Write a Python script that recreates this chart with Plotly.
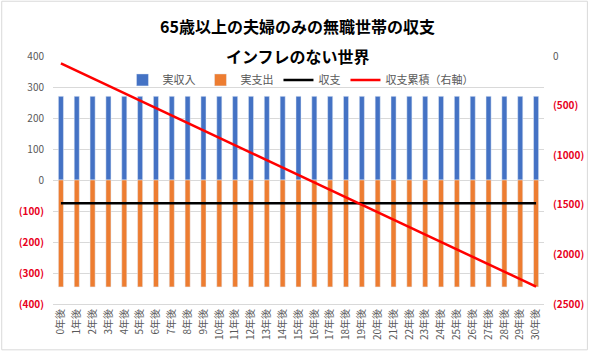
import plotly.graph_objects as go

years = [f"{i}年後" for i in range(31)]
income = [270] * 31
expense = [-345] * 31
balance = [-75] * 31
cumulative = [-75, -150, -225, -300, -375, -450, -525, -600, -675, -750,
              -825, -900, -975, -1050, -1125, -1200, -1275, -1350, -1425, -1500,
              -1575, -1650, -1725, -1800, -1875, -1950, -2025, -2100, -2175, -2250,
              -2325]

left_ticks = [400, 300, 200, 100, 0, -100, -200, -300, -400]
right_ticks = [0, -500, -1000, -1500, -2000, -2500]

RED = "#E8001C"

def fmt(v):
    if v < 0:
        return f'<span style="color:{RED}"><b>({-v})</b></span>'
    return str(v)

font = "Noto Sans CJK JP, Noto Sans, sans-serif"

fig = go.Figure()
fig.add_trace(go.Bar(x=years, y=income, name="実収入", marker_color="#4472C4"))
fig.add_trace(go.Bar(x=years, y=expense, name="実支出", marker_color="#ED7D31"))
fig.add_trace(go.Scatter(x=years, y=balance, name="収支", mode="lines",
                         line=dict(color="black", width=2.5)))
fig.add_trace(go.Scatter(x=years, y=cumulative, name="収支累積（右軸）", mode="lines",
                         line=dict(color="#FF0000", width=2.5), yaxis="y2"))

ML, MR, MT, MB = 53, 45, 56, 47
W, H = 596, 352
pw, ph = W - ML - MR, H - MT - MB
title_x = (301 - ML) / pw

fig.update_layout(
    width=W, height=H,
    margin=dict(l=ML, r=MR, t=MT, b=MB),
    paper_bgcolor="white", plot_bgcolor="white",
    barmode="relative", bargap=0.68,
    font=dict(family=font, size=10, color="#595959"),
    showlegend=True,
    legend=dict(orientation="h", x=(304 - ML) / pw, xanchor="center", y=1 - (80 - MT) / ph,
                yanchor="middle", font=dict(size=11, color="#595959"),
                bgcolor="rgba(0,0,0,0)", itemwidth=30, traceorder="normal"),
    xaxis=dict(type="category", tickangle=-90, tickfont=dict(size=10, color="#595959"),
               showgrid=False, showline=True, linecolor="#D9D9D9", ticks=""),
    yaxis=dict(range=[-400, 400], tickvals=left_ticks, ticktext=[fmt(v) for v in left_ticks],
               showgrid=True, gridcolor="#D9D9D9", gridwidth=1, zeroline=False,
               tickfont=dict(size=10, color="#595959"), ticks="",
               ticklabelstandoff=8),
    yaxis2=dict(range=[-2500, 0], overlaying="y", side="right",
                tickvals=right_ticks, ticktext=[fmt(v) for v in right_ticks],
                showgrid=False, zeroline=False, tickfont=dict(size=10, color="#595959"),
                ticklabelstandoff=8),
    annotations=[
        dict(text="<b>65歳以上の夫婦のみの無職世帯の収支</b>", xref="paper", yref="paper",
             x=title_x, y=1 + (MT - 26) / ph, xanchor="center", yanchor="middle",
             showarrow=False, font=dict(size=16, color="black", family=font)),
        dict(text="<b>インフレのない世界</b>", xref="paper", yref="paper",
             x=title_x, y=1 + (MT - 56) / ph, xanchor="center", yanchor="middle",
             showarrow=False, font=dict(size=16, color="black", family=font)),
    ],
    shapes=[dict(type="rect", xref="paper", yref="paper",
                 x0=(1 - ML) / pw, x1=(W - 1 - ML) / pw,
                 y0=-(MB - 1) / ph, y1=1 + (MT - 1) / ph,
                 line=dict(color="#D9D9D9", width=1), layer="below")],
)

fig.write_html("out.html")
